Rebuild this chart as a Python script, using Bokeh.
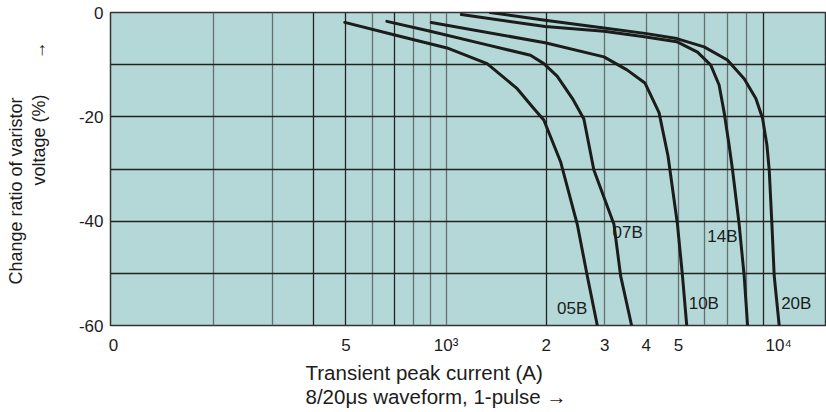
from bokeh.plotting import figure
from bokeh.models import Range1d, FixedTicker, Grid, ColumnDataSource, Title
from bokeh.embed import file_html
from bokeh.resources import INLINE
from bokeh.core.properties import value

# ---- data ----
x_05B = [496, 711, 1007, 1329, 1637, 1836, 1968, 2210, 2481, 2659, 2850]
y_05B = [-1.9, -4.4, -6.8, -9.8, -14.6, -18.4, -20.6, -28.6, -40.6, -50.5, -60]

x_07B = [664, 897, 1329, 1795, 1968, 2158, 2400, 2597, 2783, 3198, 3350, 3614]
y_07B = [-1.7, -3.6, -6.2, -8.2, -9.8, -12.2, -16.5, -20.4, -30.2, -40.6, -50.5, -60]

x_10B = [903, 1986, 2984, 3500, 3963, 4370, 4650, 4964, 5140, 5293]
y_10B = [-1.9, -5.8, -8.5, -11.0, -13.5, -19.2, -27.5, -40.6, -50.5, -60]

x_14B = [1112, 1986, 2984, 3900, 4940, 5703, 6252, 6623, 6856, 7097, 7269, 7609, 7878, 8066]
y_14B = [-0.4, -2.7, -3.6, -4.6, -5.6, -7.6, -10.1, -13.9, -19.1, -25.4, -30.2, -40.6, -50.5, -60]

x_20B = [1359, 1986, 2984, 3963, 4940, 5970, 7015, 7878, 8542, 8950, 9222, 9370, 9546, 9699, 10040]
y_20B = [0, -1.5, -2.95, -4.0, -5.0, -6.6, -9.1, -12.7, -16.5, -20.3, -25.4, -30.2, -40.6, -50.5, -60]

series_names = ["05B", "07B", "10B", "14B", "20B"]
label_x = [2396, 3516, 5958, 6776, 11300]
label_y = [-56.7, -42.1, -55.8, -43.0, -55.7]

x_ticks = [100, 500, 1000, 2000, 3000, 4000, 5000, 10000]
x_tick_labels = ["0", "5", "10\u00b3", "2", "3", "4", "5", "10\u2074"]
y_ticks = [-60, -40, -20, 0]
y_tick_labels = ["-60", "-40", "-20", "0"]
grid_dark_x = [400, 500, 700, 2000, 9000]
grid_gray_x = [200, 300, 600, 800, 900, 1000, 3000, 4000, 5000, 6000, 7000, 8000]
grid_y = [-50, -40, -30, -20, -10]

FONT = "Liberation Sans"
INK = "#1c1c1c"
NB = "\u00a0"

p = figure(width=826, height=410, x_axis_type="log",
           x_range=Range1d(98, 13930), y_range=Range1d(-60, 0),
           output_backend="svg", toolbar_location=None,
           min_border_left=110, min_border_top=12, min_border_bottom=85,
           min_border_right=0)
p.background_fill_color = "#b4d8d7"
p.border_fill_color = "white"
p.outline_line_color = "#333333"
p.outline_line_width = 1.5

# axes
for ax in (p.xaxis[0], p.yaxis[0]):
    ax.axis_line_color = None
    ax.major_tick_line_color = None
    ax.minor_tick_line_color = None
    ax.major_tick_out = 0
    ax.minor_tick_out = 0
    ax.major_label_text_font = FONT
    ax.major_label_text_font_size = "17px"
    ax.major_label_text_color = INK

p.xaxis.ticker = FixedTicker(ticks=x_ticks)
p.xaxis.major_label_overrides = {t: l for t, l in zip(x_ticks, x_tick_labels)}
p.xaxis.major_label_standoff = 10
p.yaxis.ticker = FixedTicker(ticks=y_ticks)
p.yaxis.major_label_overrides = {t: l for t, l in zip(y_ticks, y_tick_labels)}
p.yaxis.major_label_standoff = 7
# invisible spacer label to widen the y-axis panel
p.yaxis.axis_label = NB
p.yaxis.axis_label_text_font_size = "2px"
p.yaxis.axis_label_standoff = 22

# grids
p.xgrid.ticker = FixedTicker(ticks=grid_gray_x)
p.xgrid.grid_line_color = "#667070"
p.xgrid.grid_line_width = 1.3
p.add_layout(Grid(dimension=0, ticker=FixedTicker(ticks=grid_dark_x),
                  grid_line_color="#222222", grid_line_width=1.3))
p.ygrid.ticker = FixedTicker(ticks=grid_y)
p.ygrid.grid_line_color = "#222222"
p.ygrid.grid_line_width = 1.3

# curves
for xs, ys in [(x_05B, y_05B), (x_07B, y_07B), (x_10B, y_10B), (x_14B, y_14B), (x_20B, y_20B)]:
    p.line(xs, ys, line_color=INK, line_width=3, line_join="round", line_cap="round")

src = ColumnDataSource(dict(x=label_x, y=label_y, t=series_names))
p.text(x="x", y="y", text="t", source=src, text_font=value(FONT),
       text_font_size="17px", text_color=INK, text_align="center",
       text_baseline="middle")

# axis titles (as side titles so they are not clipped)
def mk_title(text, size, align, offset, standoff, valign="bottom"):
    return Title(text=text, text_font=FONT, text_font_size=size,
                 text_font_style="normal", text_color=INK,
                 align=align, offset=offset, standoff=standoff,
                 vertical_align=valign)

p.add_layout(mk_title("Transient peak current (A)", "20.5px", "left", 195, 2), "below")
p.add_layout(mk_title("8/20\u03bcs waveform, 1-pulse \u2192", "20.5px", "left", 195, -4), "below")
p.add_layout(mk_title("voltage (%)" + NB * 7 + "\u2192", "18px", "right", 29, 0), "left")
p.add_layout(mk_title("Change ratio of varistor", "18px", "right", 85, 2), "left")

open("out.html", "w").write(file_html(p, INLINE))
